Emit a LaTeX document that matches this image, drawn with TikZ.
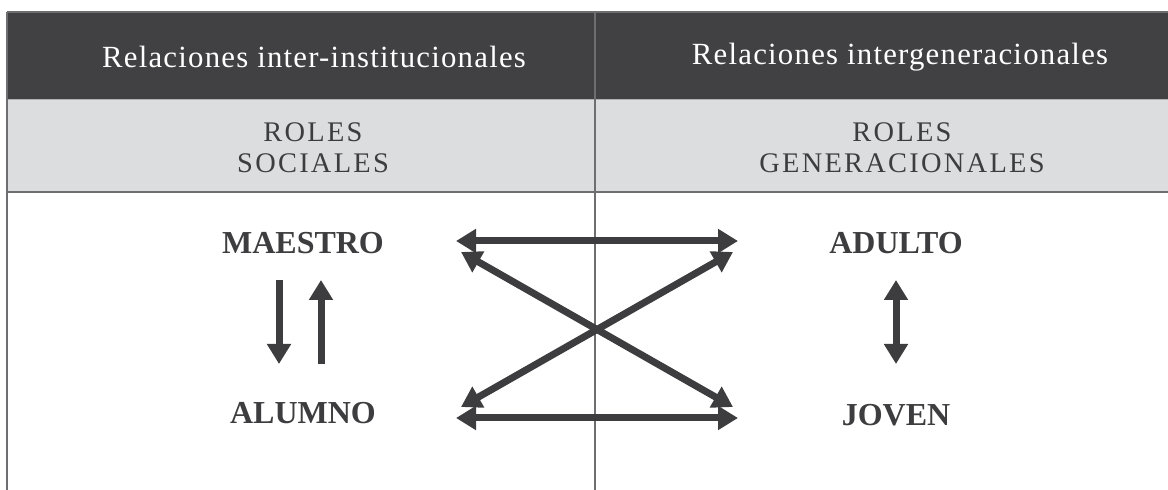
\documentclass[tikz,border=0pt]{standalone}
\usepackage{fontspec}
\setmainfont{Liberation Serif}
\usetikzlibrary{arrows.meta}
\definecolor{hdr}{HTML}{414143}
\definecolor{band}{HTML}{DCDDDF}
\definecolor{ink}{HTML}{3D3D3F}
\definecolor{rule}{HTML}{6E6E70}
\tikzset{
  hdrtext/.style={text=white,font=\fontsize{15.4}{18}\selectfont\addfontfeatures{LetterSpace=4}},
  bandtext/.style={text=ink,align=center,font=\fontsize{14.2}{15.5}\selectfont\addfontfeatures{LetterSpace=8}},
  roletext/.style={text=ink,font=\fontsize{16}{19}\selectfont\bfseries},
  bigarrow/.style={draw=ink,line width=3.5pt,{Triangle[width=11.5pt,length=10pt]}-{Triangle[width=11.5pt,length=10pt]}},
  onearrow/.style={draw=ink,line width=3.5pt,-{Triangle[width=11.5pt,length=10pt]}},
  ruleline/.style={draw=rule,line width=0.7pt}
}
\begin{document}
\begin{tikzpicture}[x=0.5pt,y=-0.5pt]
\useasboundingbox (0,0) rectangle (1168,490);
% backgrounds
\fill[hdr] (7,12) rectangle (1168,100);
\fill[band] (7,100) rectangle (1168,192);
\draw[ruleline] (7,12) -- (1168,12);
\draw[draw=band!60!rule,line width=0.5pt] (7,100) -- (1168,100);
\draw[draw=rule,line width=1pt] (7,192) -- (1168,192);
\draw[ruleline] (7,12) -- (7,490);
\draw[ruleline] (595,12) -- (595,490);
% header texts
\node[hdrtext] (h1) at (314,57) {Relaciones inter-institucionales};
\node[hdrtext] (h2) at (900,57) {Relaciones intergeneracionales};
\node[bandtext] (b1) at (313,148) {ROLES\\SOCIALES};
\node[bandtext] (b2) at (902,148) {ROLES\\GENERACIONALES};
% role nodes
\node[roletext] (maestro) at (303,243) {MAESTRO};
\node[roletext] (alumno) at (303,413) {ALUMNO};
\node[roletext] (adulto) at (896,243) {ADULTO};
\node[roletext] (joven) at (896,415) {JOVEN};
% arrow end points
\coordinate (tl) at (456,241);
\coordinate (tr) at (738,241);
\coordinate (bl) at (456,418);
\coordinate (br) at (738,418);
\coordinate (dtl) at (461,252);
\coordinate (dtr) at (733,252);
\coordinate (dbl) at (461,407);
\coordinate (dbr) at (733,407);
\coordinate (ma) at (279,280);
\coordinate (mb) at (279,364);
\coordinate (ua) at (321,364);
\coordinate (ub) at (321,280);
\coordinate (ja) at (896,280);
\coordinate (jb) at (896,364);
% arrows
\draw[bigarrow] (tl) -- (tr);
\draw[bigarrow] (bl) -- (br);
\draw[bigarrow] (dtl) -- (dbr);
\draw[bigarrow] (dbl) -- (dtr);
\draw[onearrow] (ma) -- (mb);
\draw[onearrow] (ua) -- (ub);
\draw[bigarrow] (ja) -- (jb);
\end{tikzpicture}
\end{document}
